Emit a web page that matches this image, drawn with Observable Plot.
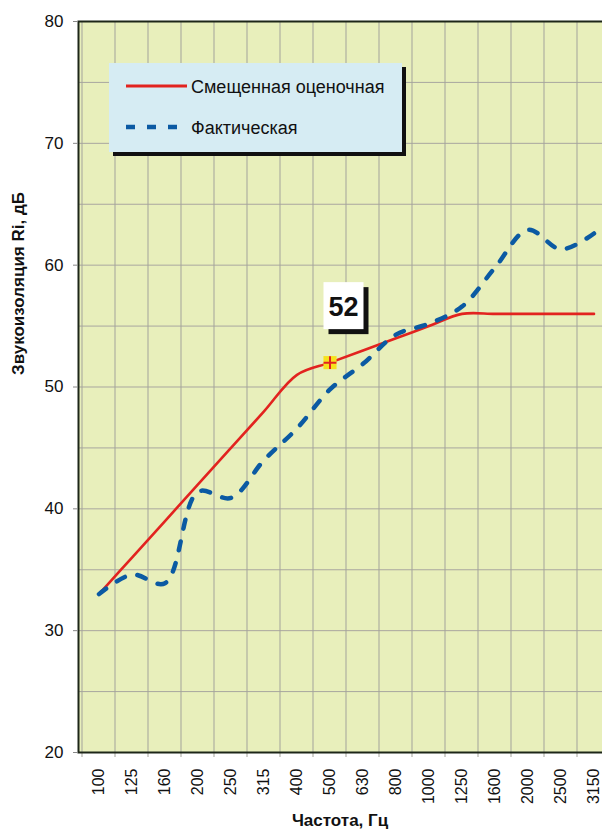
<!DOCTYPE html>
<html>
<head>
<meta charset="utf-8">
<script src="https://cdn.jsdelivr.net/npm/d3@7"></script>
<script src="https://cdn.jsdelivr.net/npm/@observablehq/plot@0.6"></script>
<style>
  html, body { margin: 0; padding: 0; background: #ffffff; overflow: hidden; }
  #wrap { position: relative; width: 602px; height: 833px; overflow: hidden; font-family: "Liberation Sans", Arial, sans-serif; }
  #wrap > svg { max-width: none !important; width: 613px; height: 833px; display: block; }
  #legend { position: absolute; left: 109px; top: 63px; width: 293px; height: 89px; background: #d6ecf3; box-shadow: 4px 4px 0 #111; }
  #legend svg { position: absolute; left: 0; top: 0; }
</style>
</head>
<body>
<div id="wrap"></div>
<script>
// ---- data ----
const freqs = ["100","125","160","200","250","315","400","500","630","800","1000","1250","1600","2000","2500","3150"];
const estimated = [33, 36, 39, 42, 45, 48, 51, 52, 53, 54, 55, 56, 56, 56, 56, 56];
const actual = [33.0, 34.6, 33.9, 41.4, 40.9, 44.0, 46.6, 49.8, 51.9, 54.3, 55.2, 56.6, 59.8, 62.9, 61.3, 62.6];
const yTicks = [20, 30, 40, 50, 60, 70, 80];
const yGrid = [20, 25, 30, 35, 40, 45, 50, 55, 60, 65, 70, 75, 80];
const seriesNames = ["Смещенная оценочная", "Фактическая"];
const ratingFreq = "500";
const ratingValue = 52;
const ratingLabel = "52";
const xTitle = "Частота, Гц";
const yTitle = "Звукоизоляция Ri, дБ";

const colors = { est: "#e2231f", act: "#0b5aa3" };

const estRows = freqs.map((f, i) => ({ f, v: estimated[i] }));
const actRows = freqs.map((f, i) => ({ f, v: actual[i] }));

// vertical grid at band edges (plus small ticks below the axis)
function vGrid(index, scales, values, dims) {
  const x = scales.x;
  const bw = x.bandwidth();
  const top = dims.marginTop, bot = dims.height - dims.marginBottom;
  const g = d3.create("svg:g").attr("stroke", "#a3a39b").attr("stroke-width", 1);
  const edges = freqs.map(f => x(f)).concat([x(freqs[freqs.length - 1]) + bw]);
  for (const px of edges) {
    g.append("line").attr("x1", px).attr("x2", px).attr("y1", top).attr("y2", bot + 5);
  }
  return g.node();
}

// "52" rating callout box, placed relative to the rating point
function ratingBox(index, scales) {
  const cx = scales.x(ratingFreq) + scales.x.bandwidth() / 2;
  const cy = scales.y(ratingValue);
  const g = d3.create("svg:g");
  const bx = cx - 6, by = cy - 80, w = 40, h = 47;
  g.append("rect").attr("x", bx + 5).attr("y", by + 5).attr("width", w).attr("height", h).attr("fill", "#111");
  g.append("rect").attr("x", bx).attr("y", by).attr("width", w).attr("height", h).attr("fill", "#ffffff");
  g.append("text").attr("x", bx + w / 2).attr("y", by + h / 2 + 10)
    .attr("text-anchor", "middle").attr("font-size", 27).attr("font-weight", "bold")
    .attr("fill", "#111").text(ratingLabel);
  return g.node();
}

const chart = Plot.plot({
  width: 613,
  height: 833,
  marginLeft: 78,
  marginRight: 0,
  marginTop: 21,
  marginBottom: 81,
  style: { fontFamily: "'Liberation Sans', Arial, sans-serif", background: "transparent", color: "#111", maxWidth: "none" },
  x: { type: "band", domain: freqs, padding: 0, axis: null },
  y: { domain: [20, 80], axis: null },
  marks: [
    Plot.frame({ fill: "#e8efbb", stroke: null }),
    Plot.gridY(yGrid, { stroke: "#a29e9c", strokeOpacity: 0.9, strokeWidth: 1 }),
    vGrid,
    Plot.lineY(estRows, { x: "f", y: "v", stroke: colors.est, strokeWidth: 2.6, curve: "catmull-rom" }),
    Plot.lineY(actRows, { x: "f", y: "v", stroke: colors.act, strokeWidth: 4.5, strokeDasharray: "9,13", curve: "catmull-rom" }),
    Plot.frame({ stroke: "#1d2618", strokeWidth: 2 }),
    Plot.axisY(yTicks, { tickSize: 5, tickPadding: 10, fontSize: 17, label: null, stroke: "#888", fill: "#111" }),
    Plot.axisX({ tickRotate: -90, tickSize: 0, tickPadding: 16, fontSize: 16, label: null, fill: "#111" }),
    Plot.dot([{ f: ratingFreq, v: ratingValue }], { x: "f", y: "v", symbol: "square", r: 7.4, fill: "#f6e21c", stroke: null }),
    Plot.dot([{ f: ratingFreq, v: ratingValue }], { x: "f", y: "v", symbol: "plus", r: 4.2, stroke: "#e2231f", strokeWidth: 2 }),
    ratingBox,
    Plot.text([yTitle], { frameAnchor: "left", rotate: -90, dx: -60, dy: -12, fontSize: 17, fontWeight: "bold", fill: "#111" }),
    Plot.text([xTitle], { frameAnchor: "bottom", dx: -6, dy: 73, fontSize: 17, fontWeight: "bold", fill: "#111" })
  ]
});

const wrap = document.getElementById("wrap");
wrap.appendChild(chart);

// legend overlay (inside the plot area, top-left)
const legend = document.createElement("div");
legend.id = "legend";
wrap.appendChild(legend);
const lsvg = d3.select(legend).append("svg").attr("width", 293).attr("height", 89)
  .style("font-family", "'Liberation Sans', Arial, sans-serif");
const items = [
  { name: seriesNames[0], color: colors.est, width: 3, dash: null, y: 23 },
  { name: seriesNames[1], color: colors.act, width: 4.5, dash: "9,12", y: 64 }
];
for (const it of items) {
  lsvg.append("line").attr("x1", 17).attr("x2", 78).attr("y1", it.y).attr("y2", it.y)
    .attr("stroke", it.color).attr("stroke-width", it.width)
    .attr("stroke-dasharray", it.dash);
  lsvg.append("text").attr("x", 82).attr("y", it.y + 6.5).attr("font-size", 18).attr("fill", "#111").text(it.name);
}
</script>
</body>
</html>
